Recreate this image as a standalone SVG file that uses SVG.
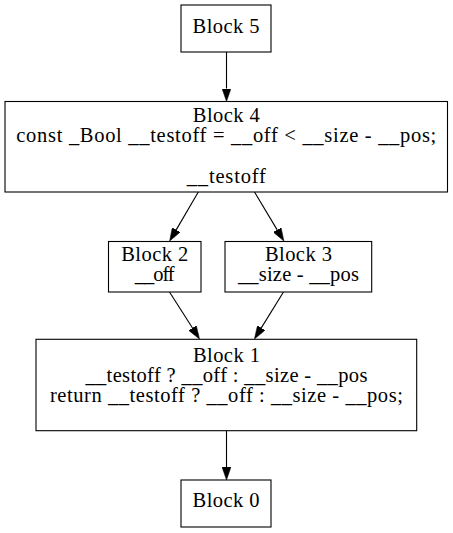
<svg xmlns="http://www.w3.org/2000/svg" width="453" height="533" viewBox="0 0 453 533">
<style>
.box{fill:#fff;stroke:#000;stroke-width:1.1}
.t{font-family:'Liberation Serif','Times New Roman',serif;font-size:20.5px;fill:#000;text-anchor:middle}
.e{stroke:#000;stroke-width:1.1;fill:none}
</style>
<defs>
<marker id="ah" viewBox="0 0 13 9" refX="0" refY="4.5" markerWidth="13" markerHeight="9" markerUnits="userSpaceOnUse" orient="auto">
<path d="M0,0 L13,4.5 L0,9 z" fill="#000" stroke="#000" stroke-width="0.5"/>
</marker>
</defs>
<rect width="453" height="533" fill="#fff"/>
<g id="connectors">
<line class="e" x1="226.5" y1="52" x2="226.5" y2="88.5" marker-end="url(#ah)"/>
<line class="e" x1="198.3" y1="192" x2="176.2" y2="229.85" marker-end="url(#ah)"/>
<line class="e" x1="254.5" y1="192" x2="277.2" y2="229.9" marker-end="url(#ah)"/>
<line class="e" x1="169.5" y1="292" x2="192.5" y2="328" marker-end="url(#ah)"/>
<line class="e" x1="283.5" y1="292" x2="261.3" y2="327.9" marker-end="url(#ah)"/>
<line class="e" x1="226.5" y1="431" x2="226.5" y2="467" marker-end="url(#ah)"/>
</g>
<g id="block5">
<rect class="box" x="181" y="5" width="90" height="47"/>
<text class="t" x="226" y="33" textLength="67" lengthAdjust="spacing">Block 5</text>
</g>
<g id="block4">
<rect class="box" x="5" y="101.5" width="442.5" height="90.5"/>
<text class="t" x="226.3" y="121.7" textLength="67" lengthAdjust="spacing">Block 4</text>
<text class="t" x="226.3" y="142" textLength="420" lengthAdjust="spacing">const _Bool __testoff = __off &lt; __size - __pos;</text>
<text class="t" x="226.3" y="182.7" textLength="79" lengthAdjust="spacing">__testoff</text>
</g>
<g id="block2">
<rect class="box" x="108.5" y="241.5" width="92.5" height="50.5"/>
<text class="t" x="154.7" y="261" textLength="67" lengthAdjust="spacing">Block 2</text>
<text class="t" x="154.7" y="281" textLength="40" lengthAdjust="spacing">__off</text>
</g>
<g id="block3">
<rect class="box" x="225" y="241.5" width="146.7" height="50.5"/>
<text class="t" x="298.4" y="261" textLength="67" lengthAdjust="spacing">Block 3</text>
<text class="t" x="298.4" y="281" textLength="121" lengthAdjust="spacing">__size - __pos</text>
</g>
<g id="block1">
<rect class="box" x="36" y="339.3" width="380.7" height="91.4"/>
<text class="t" x="226.4" y="361.7" textLength="67" lengthAdjust="spacing">Block 1</text>
<text class="t" x="226.4" y="381.7" textLength="282" lengthAdjust="spacing">__testoff ? __off : __size - __pos</text>
<text class="t" x="226.4" y="401.7" textLength="353" lengthAdjust="spacing">return __testoff ? __off : __size - __pos;</text>
</g>
<g id="block0">
<rect class="box" x="181" y="480" width="90" height="47"/>
<text class="t" x="226" y="506.7" textLength="67" lengthAdjust="spacing">Block 0</text>
</g>
</svg>
